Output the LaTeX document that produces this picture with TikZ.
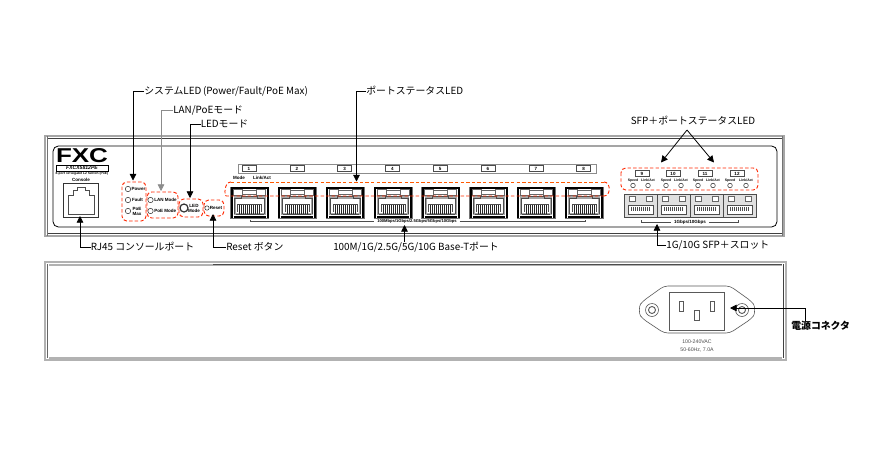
\documentclass[tikz,border=0pt]{standalone}
\usepackage{fontspec}
\setmainfont{Liberation Sans}
\newfontfamily\cjk{Noto Sans CJK JP}
\usetikzlibrary{arrows.meta, calc}
\tikzset{
  callout/.style={draw=black, line width=0.6pt, -{Triangle[length=5pt,width=5pt]}},
  calllabel/.style={font=\cjk\fontsize{7.4}{9}\selectfont, inner sep=0pt, anchor=west},
  tinytxt/.style={font=\bfseries\fontsize{3.4}{3.8}\selectfont, inner sep=0pt, align=center},
  sfptxt/.style={font=\bfseries\fontsize{2.6}{3}\selectfont, inner sep=0pt, anchor=base},
  redbox/.style={draw=red!70!orange, line width=0.7pt, dash pattern=on 2.6pt off 1.6pt, rounded corners=3.5pt},
  led/.style={draw=black!80, line width=0.4pt, fill=white},
  numbox/.style={draw=black!70, line width=0.4pt, fill=white, font=\bfseries\fontsize{3.4}{4}\selectfont, inner sep=0pt, minimum width=10.5pt, minimum height=4.6pt}
}
\begin{document}
\begin{tikzpicture}[x=0.75pt,y=-0.75pt]
  \useasboundingbox (0,0) rectangle (874,450);

  % Front panel
  \draw[black!35, line width=1pt] (45,136) rectangle (784,236);
  \draw[black!75, line width=0.5pt] (47,138.5) -- (782,138.5);
  \draw[black!75, line width=0.5pt] (47,233.5) -- (782,233.5);
  \draw[black!55, line width=0.5pt] (47,136) -- (47,236) (782,136) -- (782,236);
  \draw[black, line width=0.6pt, rounded corners=4pt] (53,146) rectangle (777,227);

  % Logo
  \node[inner sep=0pt] (logo) at (82,156) {\resizebox{39pt}{10.5pt}{\bfseries FXC}};
  \node[draw=black, line width=0.35pt, minimum width=39pt, minimum height=4.6pt, inner sep=0pt,
        font=\bfseries\itshape\fontsize{3.8}{4}\selectfont] (model) at (82,168) {FXCX5812PE};
  \node[tinytxt, font=\bfseries\fontsize{2.5}{3}\selectfont] (modelsub) at (82,174) {8-port 10 Gigabit L2 Switch (PoE)};

  % Console port
  \node[tinytxt] (console) at (81,180) {Console};
  \draw[black!80, line width=1pt] (63.5,183.5) rectangle (98.5,217.5);
  \draw[black!70, line width=0.5pt] (68,214) -- (68,195) -- (73,195) -- (73,190) -- (77,190) -- (77,187)
    -- (85,187) -- (85,190) -- (89,190) -- (89,195) -- (94,195) -- (94,214) -- cycle;

  % System LEDs
  \draw[redbox] (122,182) rectangle (146,221);
  \draw[redbox] (147,192) rectangle (178,218);
  \draw[redbox] (179,199) rectangle (203,217);
  \draw[redbox] (204,200) rectangle (224,216);
  \foreach \y in {189,200,211}
    \draw[led] (128,\y) circle [radius=2.7];
  \node[tinytxt] (ledpower) at (138.5,189) {Power};
  \node[tinytxt] (ledfault) at (137.5,200) {Fault};
  \node[tinytxt] (ledpoe) at (137,211) {PoE\\Max};
  \draw[led] (150.5,200) circle [radius=2.7];
  \draw[led] (150.5,211) circle [radius=2.7];
  \node[tinytxt, anchor=west] (lanmode) at (154,200) {LAN Mode};
  \node[tinytxt, anchor=west] (poemode) at (154,211) {PoE Mode};
  \draw[led, line width=0.9pt] (184,208) circle [radius=4];
  \node[tinytxt] (ledmode) at (194,208) {LED\\Mode};
  \draw[led] (207,208) circle [radius=2.2];
  \node[tinytxt] (resetbtn) at (216,208) {Reset};

  % Port numbers
  \draw[black!45, line width=0.5pt] (238,164) rectangle (596,173);
  \foreach \n [count=\i from 0] in {1,...,8}
    \node[numbox] (num\n) at ({249+47.8*\i},168.5) {\n};
  \node[tinytxt] (modetxt) at (239,178) {Mode};
  \node[tinytxt] (linktxt) at (262,178) {Link/Act};

  % RJ45 ports
  \foreach \i in {0,...,7} {
    \begin{scope}[shift={({230.5+47.8*\i},187)}]
      \draw[black!55, line width=0.5pt] (0,0) rectangle (38,31);
      \draw[black, line width=1.5pt] (1,31) -- (1,1) -- (37,1) -- (37,31);
      \draw[black, line width=1.8pt] (3,30) -- (35,30);
      \fill[black!35] (3,9) rectangle (35,28);
      \fill[white] (5,12) rectangle (33,26);
      \draw[black!60, line width=0.4pt, fill=white] (3,2.5) rectangle (12,8);
      \draw[black!60, line width=0.4pt, fill=white] (26,2.5) rectangle (35,8);
      \draw[black!60, line width=0.4pt] (12,3.5) -- (26,3.5) (12,7) -- (26,7);
      \draw[black!70, line width=0.4pt] (4,27) -- (4,11) -- (11,11) -- (11,9) -- (27,9) -- (27,11) -- (34,11) -- (34,27);
      \draw[black!70, line width=0.4pt] (7,25) -- (7,17) -- (31,17) -- (31,25);
      \foreach \t in {9,11,...,29}
        \draw[black!85, line width=0.6pt] (\t,18) -- (\t,27);
      \draw[black!70, line width=0.7pt] (5,27.5) -- (33,27.5);
    \end{scope}
  }
  \draw[redbox, draw=orange!70!red, line width=0.6pt] (231,182) -- (604,182);
  \draw[redbox, draw=red!65!orange] (604,196) -- (231,196)
    .. controls (224,196) and (224,182) .. (231,182);
  \draw[redbox, draw=red!65!orange] (604,182)
    .. controls (611,182) and (611,196) .. (604,196);

  % RJ45 bracket
  \node[tinytxt, fill=white, inner xsep=2pt, font=\bfseries\fontsize{3.1}{3.8}\selectfont] (speedtxt) at (417,221) {100Mbps/1Gbps/2.5Gbps/5Gbps/10Gbps};
  \draw[black!70, line width=0.4pt] (250,219.5) -- (250,221) -- (speedtxt.west) (speedtxt.east) -- (585,221) -- (585,219.5);

  % SFP ports
  \foreach \i in {0,...,3} {
    \begin{scope}[shift={({624+33.2*\i},194)}]
      \draw[black!70, line width=0.7pt, fill=black!12] (0,0) rectangle (33,23);
      \draw[black!60, line width=0.4pt, fill=white] (5,2) rectangle (11,7);
      \draw[black!60, line width=0.4pt, fill=white] (22,2) rectangle (28,7);
      \draw[black!70, line width=0.4pt, fill=white] (4,11) rectangle (29,20);
      \foreach \t in {7,9,...,26}
        \draw[black!70, line width=0.4pt] (\t,13) -- (\t,17);
    \end{scope}
  }
  \node[tinytxt, fill=white, inner xsep=2pt] (sfpspeed) at (690,222) {1Gbps/10Gbps};
  \draw[black!70, line width=0.4pt] (641,220) -- (641,222) -- (sfpspeed.west) (sfpspeed.east) -- (738,222) -- (738,220);

  % SFP LEDs
  \draw[redbox] (621,168) rectangle (758,190);
  \foreach \n/\x in {9/642,10/673,11/705,12/737}
    \node[numbox] (num\n) at (\x,173.5) {\n};
  \foreach \sx/\lx [count=\i] in {633/648,666/681,698/713,730/746} {
    \node[sfptxt] (spd\i) at (\sx,181) {Speed};
    \node[sfptxt] (lnk\i) at (\lx,181) {Link/Act};
    \draw[led] (\sx,185.5) circle [radius=2.3];
    \draw[led] (\lx,185.5) circle [radius=2.3];
  }

  % Rear panel
  \draw[black!30, line width=1pt] (45,262) rectangle (786,360);
  \draw[black!30, line width=0.8pt] (49,265) -- (782,265) (49,358) -- (782,358);
  \draw[black!70, line width=0.6pt] (213,264) -- (782,264);
  \draw[black!60, line width=0.5pt] (47,264) -- (47,358);
  \draw[black!75, line width=0.7pt] (783.5,264) -- (783.5,358);

  % Power connector
  \draw[black!65, line width=0.45pt, rounded corners=3pt, fill=white] (664,286) -- (730,286) -- (751,301)
    .. controls (755,306) and (755,314) .. (751,319) -- (730,333) -- (664,333) -- (643,319)
    .. controls (639,314) and (639,306) .. (643,301) -- cycle;
  \draw[black!65, line width=0.45pt] (669,292) rectangle (724,330);
  \draw[black!65, line width=0.45pt] (679,301) rectangle (683.5,311);
  \draw[black!65, line width=0.45pt] (710,301) rectangle (714.5,311);
  \draw[black!65, line width=0.45pt] (694.5,310) rectangle (699,320);
  \foreach \x in {652,742} {
    \draw[black!65, line width=0.45pt] (\x,310) circle [radius=6.5];
    \draw[black!65, line width=0.7pt] (\x,310) circle [radius=3.5];
  }
  \node[tinytxt, font=\fontsize{3.9}{4.5}\selectfont, text=black!70] (acinfo) at (697,346) {100-240VAC\\[1.5pt]50-60Hz, 7.0A};

  % Callout targets
  \coordinate (sysled) at (133,180.5);
  \coordinate (lanled) at (161,191);
  \coordinate (modeled) at (190,198);
  \coordinate (portled) at (356.5,181.5);
  \coordinate (sfpledl) at (661,162.5);
  \coordinate (sfpledr) at (714,162.5);
  \coordinate (consoleport) at (80,216);
  \coordinate (resetport) at (213,214);
  \coordinate (baseport) at (404.5,225);
  \coordinate (sfpport) at (657,224);
  \coordinate (powerport) at (730,308);
  \coordinate (powerbend) at (805,308);
  \coordinate (sfpfork) at (687,130);

  % Callouts
  \node[calllabel] (syslabel) at (144,91) {システムLED\,(Power/Fault/PoE Max)};
  \node[calllabel] (lanlabel) at (173,110) {LAN/PoEモード};
  \node[calllabel] (modelabel) at (200.5,124) {LEDモード};
  \node[calllabel] (portlabel) at (366,91) {ポートステータスLED};
  \node[calllabel, anchor=center] (sfplabel) at (693,120.5) {SFP＋ポートステータスLED};
  \node[calllabel] (rjlabel) at (90.5,247) {RJ45 コンソールポート};
  \node[calllabel] (resetlabel) at (226,247) {Reset ボタン};
  \node[calllabel] (baselabel) at (333,247) {100M/1G/2.5G/5G/10G Base-Tポート};
  \node[calllabel] (sfpslot) at (666,245.5) {1G/10G SFP＋スロット};
  \node[calllabel, font=\cjk\bfseries\fontsize{7.4}{9}\selectfont] (powerlabel) at (791,326) {電源コネクタ};

  \draw[callout] (syslabel.west) -| (sysled);
  \draw[callout, draw=black!45] (lanlabel.west) -| (lanled);
  \draw[callout] (modelabel.west) -| (modeled);
  \draw[callout] (portlabel.west) -| (portled);
  \draw[callout] (sfpfork) -- (sfpledl);
  \draw[callout] (sfpfork) -- (sfpledr);
  \draw[callout] (rjlabel.west) -| (consoleport);
  \draw[callout] (resetlabel.west) -| (resetport);
  \draw[callout] (baselabel.north -| baseport) -- (baseport);
  \draw[callout] (sfpslot.west) -| (sfpport);
  \draw[callout] (powerlabel.north -| powerbend) -- (powerbend) -- (powerport);
\end{tikzpicture}
\end{document}
